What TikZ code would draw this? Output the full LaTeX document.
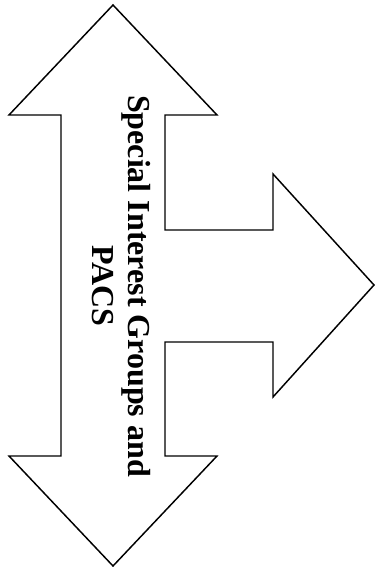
\documentclass[tikz,border=0pt]{standalone}
\usepackage{fontspec}
\setmainfont{Liberation Serif}
\usetikzlibrary{calc}

\begin{document}
\begin{tikzpicture}[x=0.75pt,y=0.75pt,
    outline/.style={draw=black,line width=1.1pt,line join=miter,fill=white},
    label/.style={rotate=-90,align=center,font=\fontsize{24}{27}\selectfont\bfseries}]
\useasboundingbox (0,0) rectangle (375,567);
\coordinate (top) at (113,562);
\coordinate (bottom) at (113,1);
\coordinate (tip) at (374,282);
\draw[outline] (top) -- (217,452) -- (165,452) -- (165,337) -- (273,337)
  -- (273,393) -- (tip) -- (273,170) -- (273,225) -- (165,225)
  -- (165,111) -- (217,111) -- (bottom) -- (9,111) -- (61,111)
  -- (61,452) -- (9,452) -- cycle;
\node[label] (sig) at (121,281) {Special Interest Groups and\\PACS};
\end{tikzpicture}
\end{document}
